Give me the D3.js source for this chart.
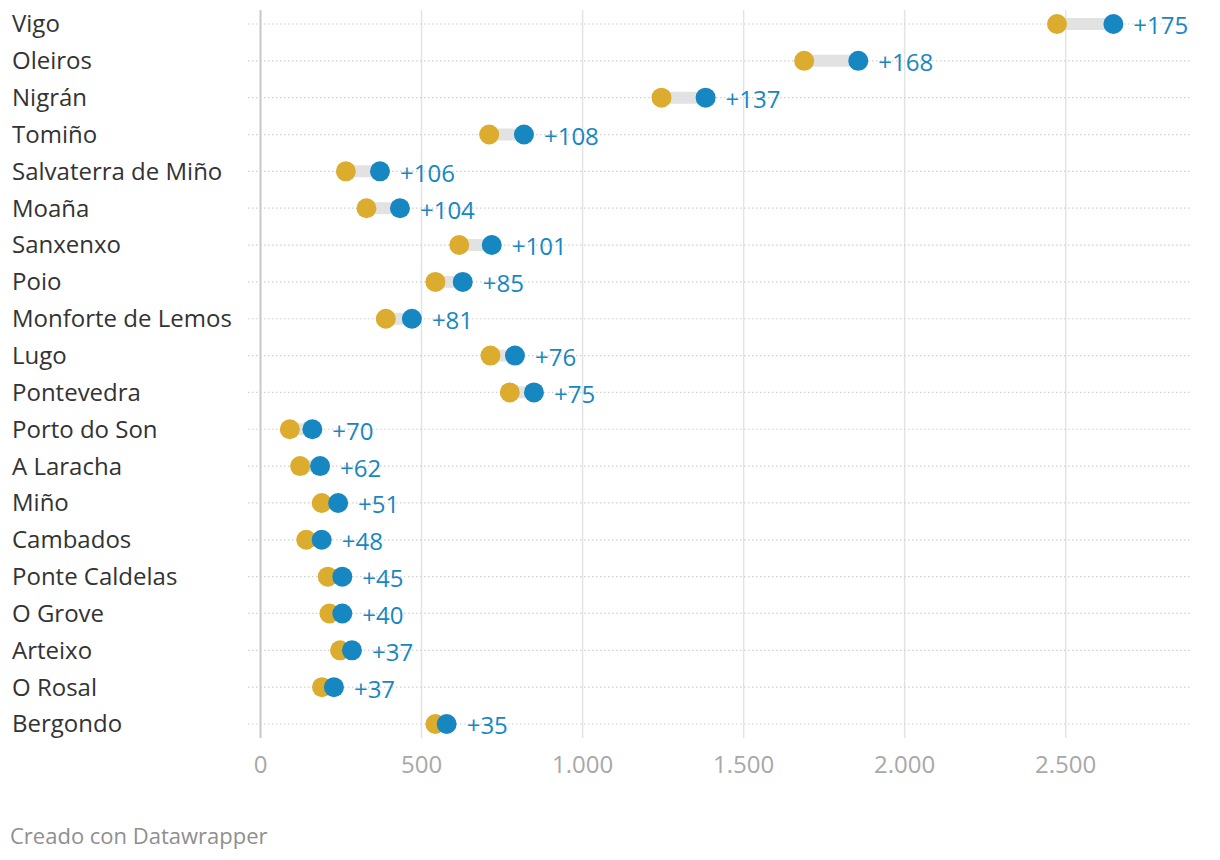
<!DOCTYPE html>
<html>
<head>
<meta charset="utf-8">
<script src="https://cdn.jsdelivr.net/npm/d3@7"></script>
<style>
  html, body { margin: 0; padding: 0; background: #fff; }
  svg { display: block; font-family: "Open Sans", sans-serif; }
</style>
</head>
<body>
<svg id="chart" width="1220" height="860"></svg>
<script>
const municipios = ["Vigo","Oleiros","Nigrán","Tomiño","Salvaterra de Miño","Moaña","Sanxenxo","Poio","Monforte de Lemos","Lugo","Pontevedra","Porto do Son","A Laracha","Miño","Cambados","Ponte Caldelas","O Grove","Arteixo","O Rosal","Bergondo"];
const antes = [2473,1688,1245,710,265,329,617,543,389,714,774,91,123,190,142,209,214,247,191,543];
const despues = [2648,1856,1382,818,371,433,718,628,470,790,849,161,185,241,190,254,254,284,228,578];
const diferencias = [175,168,137,108,106,104,101,85,81,76,75,70,62,51,48,45,40,37,37,35];
const xTicks = [0,500,1000,1500,2000,2500];
const tickLabels = ["0","500","1.000","1.500","2.000","2.500"];

const svg = d3.select("#chart");
const gold = "#dbac2e", blue = "#1787c2";

const x = d3.scaleLinear().domain([0, 2500]).range([260.5, 1065.7]);
const y = d3.scalePoint().domain(municipios).range([24, 724]);

// vertical gridlines
svg.append("g").selectAll("line").data(xTicks.slice(1)).join("line")
  .attr("x1", d => x(d)).attr("x2", d => x(d))
  .attr("y1", 10).attr("y2", 738)
  .attr("stroke", "#e3e3e3").attr("stroke-width", 1.5);

// dotted row lines
svg.append("g").selectAll("line").data(municipios).join("line")
  .attr("x1", 248).attr("x2", 1190)
  .attr("y1", d => y(d)).attr("y2", d => y(d))
  .attr("stroke", "#d0d0d0").attr("stroke-width", 1.2)
  .attr("stroke-dasharray", "1.5,2.5");

// zero axis line
svg.append("line")
  .attr("x1", x(0)).attr("x2", x(0))
  .attr("y1", 10).attr("y2", 738)
  .attr("stroke", "#c8c8c8").attr("stroke-width", 2);

// tick labels
svg.append("g").selectAll("text").data(xTicks).join("text")
  .attr("x", d => x(d)).attr("y", 765).attr("dy", "0.35em")
  .attr("text-anchor", "middle")
  .attr("fill", "#a8a8a8").attr("font-size", 24)
  .text((d, i) => tickLabels[i]);

// category labels
svg.append("g").selectAll("text").data(municipios).join("text")
  .attr("x", 12).attr("y", d => y(d)).attr("dy", "0.35em")
  .attr("fill", "#333").attr("font-size", 24)
  .text(d => d);

const rows = municipios.map((m, i) => ({ m, a: antes[i], b: despues[i], d: diferencias[i] }));

// connecting bars
svg.append("g").selectAll("line").data(rows).join("line")
  .attr("x1", d => x(d.a)).attr("x2", d => x(d.b))
  .attr("y1", d => y(d.m)).attr("y2", d => y(d.m))
  .attr("stroke", "#e2e2e2").attr("stroke-width", 12);

svg.append("g").selectAll("circle").data(rows).join("circle")
  .attr("cx", d => x(d.a)).attr("cy", d => y(d.m)).attr("r", 10)
  .attr("fill", gold);

svg.append("g").selectAll("circle").data(rows).join("circle")
  .attr("cx", d => x(d.b)).attr("cy", d => y(d.m)).attr("r", 10)
  .attr("fill", blue);

// value labels
svg.append("g").selectAll("text").data(rows).join("text")
  .attr("x", d => x(d.b) + 20).attr("y", d => y(d.m) + 2).attr("dy", "0.35em")
  .attr("fill", blue).attr("font-size", 24)
  .text(d => "+" + d.d);

// footer
svg.append("text")
  .attr("x", 10).attr("y", 836).attr("dy", "0.35em")
  .attr("fill", "#8f8f8f").attr("font-size", 22)
  .text("Creado con Datawrapper");
</script>
</body>
</html>
